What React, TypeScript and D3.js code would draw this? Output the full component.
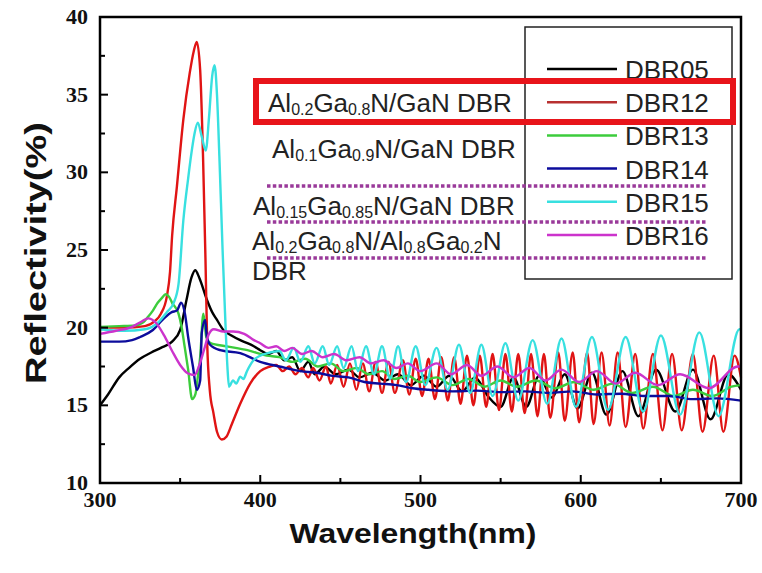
import React from "react";
import * as d3 from "d3";

// reflectivity spectra, [wavelength nm, reflectivity %]
const dbr05: [number, number][] = [
  [300, 15.0], [305, 15.7], [312, 16.8], [318, 17.4], [325, 18.0], [332, 18.4], [338, 18.7], [345, 19.1],
  [350, 19.85], [354, 21.8], [357, 23.2], [359.4, 23.7], [362, 23.2], [366.7, 21.8], [370, 21.0], [373, 20.5],
  [377, 19.85], [382, 19.5], [387.5, 19.2], [392, 19.0], [396, 18.8], [400, 18.55], [405, 18.3], [410, 18.5],
  [415, 17.9], [420, 18.1], [425, 17.2], [430, 17.8], [434, 17.0], [440, 17.5], [447, 17.0], [455, 17.3],
  [462, 16.8], [470, 17.1], [478, 16.6], [486, 17.0], [494, 16.3], [502, 16.9], [510, 16.2], [518, 16.9],
  [526, 15.9], [534, 16.8], [542, 15.6], [550, 14.9], [558, 16.8], [566, 14.9], [574, 16.9], [582, 15.5],
  [590, 17.0], [598, 14.8], [607, 17.1], [616, 14.4], [626, 17.2], [636, 14.3], [647, 17.3], [659, 14.6],
  [670, 17.3], [681, 14.1], [692, 17.0], [700, 16.0],
];

const dbr12: [number, number][] = [
  [300, 20.0], [315, 20.0], [328, 20.1], [334, 20.4], [338, 20.9], [341.7, 22.0], [343.7, 23.6], [345, 25.9],
  [348, 29.1], [352, 33.4], [356, 36.4], [358.5, 37.8], [360.4, 38.4], [362.5, 36.6], [364.3, 31.0], [365.8, 24.5],
  [366.9, 19.0], [368.5, 16.0], [370.8, 14.5], [373, 13.3], [376, 12.8], [379, 13.0], [382.3, 13.8], [387.5, 15.1],
  [393.7, 16.4], [400, 17.2], [406, 17.5],
  [410, 17.6], [414, 17.2], [418, 17.5], [422, 17.0], [426, 17.4], [430, 16.8], [433, 17.4], [437, 16.6],
  [441, 17.5], [444, 16.4], [448, 17.6], [452, 16.2], [456, 17.7], [460, 16.0], [464, 17.7], [468, 15.9],
  [472, 17.8], [476, 15.8], [480, 17.8], [484, 15.8], [489, 17.9], [493, 15.7], [497, 18.0], [501, 15.6],
  [505, 18.0], [509, 15.4], [513, 18.1], [517, 15.3], [521, 18.1], [525, 15.1], [529, 18.2], [533, 15.0],
  [537, 18.2], [541, 14.9], [545, 18.3], [549, 14.7], [553, 18.3], [557, 14.6], [561, 18.3], [565, 14.5],
  [569, 18.3], [573, 14.3], [577, 18.3], [581, 14.2], [586, 18.4], [590, 14.0], [595, 18.4], [599, 13.9],
  [604, 18.4], [608, 13.8], [613, 18.4], [618, 13.7], [623, 18.4], [628, 13.6], [634, 18.3], [639, 13.5],
  [645, 18.3], [651, 13.4], [657, 18.3], [663, 13.4], [670, 18.3], [676, 13.3], [683, 18.2], [689, 13.3],
  [696, 18.2], [700, 16.8],
];

const dbr13: [number, number][] = [
  [300, 20.05], [312, 20.1], [322, 20.15], [327, 20.35], [330, 20.7], [333, 21.1], [336, 21.6], [338.5, 21.9],
  [341, 22.15], [343, 22.0], [345, 21.6], [349, 20.9], [351, 20.0], [352.5, 19.0], [355, 17.3], [357.5, 15.4],
  [359.5, 15.7], [361, 16.8], [362.5, 18.1], [364.5, 20.9], [366.3, 19.4], [369, 19.0], [379, 18.8], [392, 18.55],
  [404, 18.2], [412, 18.1], [420, 17.8], [428, 18.0], [436, 17.5], [444, 17.7], [452, 17.2], [460, 17.4],
  [468, 17.0], [476, 17.2], [484, 16.7], [492, 16.9], [500, 16.5], [510, 16.8], [520, 16.3], [530, 16.7],
  [540, 16.2], [550, 16.6], [560, 16.2], [572, 16.6], [584, 16.1], [596, 16.5], [608, 16.0], [620, 16.4],
  [632, 15.8], [645, 16.2], [658, 15.6], [670, 16.0], [682, 15.6], [694, 16.2], [700, 16.3],
];

const dbr14: [number, number][] = [
  [300, 19.1], [312, 19.1], [320, 19.2], [325, 19.4], [333, 19.85], [339, 20.5], [344.8, 21.0], [348, 21.1],
  [350.6, 21.6], [353, 20.9], [355, 19.4], [358, 17.5], [360.4, 16.0], [362.5, 16.6], [363.5, 19.65], [365.6, 20.5],
  [366.7, 19.4], [368.7, 18.9], [375, 18.55], [387.5, 18.36], [400, 17.8], [412, 17.5], [425, 17.2], [435, 17.1],
  [445, 16.9], [455, 16.8], [465, 16.5], [475, 16.4], [485, 16.3], [495, 16.1], [505, 16.0], [520, 15.9],
  [535, 15.95], [550, 15.85], [565, 15.9], [580, 15.8], [595, 15.9], [610, 15.7], [625, 15.75], [640, 15.6],
  [655, 15.6], [670, 15.4], [685, 15.45], [700, 15.3],
];

const dbr15: [number, number][] = [
  [300, 19.9], [315, 19.8], [328, 19.9], [336, 20.3], [341.7, 21.0], [346, 21.6], [349, 22.8], [352, 26.9],
  [355, 29.6], [357, 31.2], [359, 32.5], [361, 33.2], [363.5, 32.3], [366, 31.4], [368, 33.5], [370, 36.2],
  [371.5, 36.9], [373, 35.0], [374.5, 31.0], [376.5, 25.0], [378, 21.0], [379.5, 17.5], [380.5, 16.2], [383, 16.6],
  [385, 16.4], [387.5, 16.85], [389.5, 16.7], [391.7, 17.2], [395.8, 17.9], [400, 18.2], [406, 18.4],
  [412, 18.5], [416, 17.9], [421, 18.7], [425, 17.8], [430, 18.8], [434, 17.7], [439, 18.8], [443, 17.6],
  [448, 18.8], [452, 17.4], [457, 18.8], [461, 17.2], [466, 18.8], [471, 17.0], [476, 18.8], [481, 16.7],
  [486, 18.8], [491, 16.5], [497, 18.8], [503, 16.3], [510, 18.7], [517, 16.0], [524, 18.9], [531, 15.8],
  [538, 18.9], [545, 15.6], [553, 19.0], [561, 15.3], [570, 19.2], [579, 15.1], [588, 19.3], [597, 14.9],
  [607, 19.4], [617, 14.7], [628, 19.4], [639, 14.6], [650, 19.5], [662, 14.4], [674, 19.7], [686, 14.3],
  [699, 19.9], [700, 19.9],
];

const dbr16: [number, number][] = [
  [300, 19.6], [310, 19.8], [320, 20.05], [326, 20.4], [330, 20.6], [335, 20.3], [340, 19.5], [345, 18.5],
  [350, 17.6], [355, 17.05], [359, 16.95], [362, 17.6], [365, 18.6], [368, 19.6], [371, 19.9], [377, 19.75],
  [383, 19.75], [390, 19.6], [396, 19.2], [400, 19.0], [405, 18.7], [410, 18.8], [415, 18.5], [420, 18.7],
  [426, 18.3], [432, 18.5], [439, 18.1], [446, 18.3], [454, 17.9], [462, 18.1], [469, 17.7], [477, 17.9],
  [485, 17.4], [492, 17.7], [500, 17.2], [510, 17.7], [519, 17.0], [529, 17.6], [538, 16.9], [548, 17.5],
  [558, 16.8], [568, 17.4], [578, 16.6], [588, 17.3], [599, 16.5], [610, 17.2], [622, 16.4], [634, 17.1],
  [648, 16.3], [662, 17.0], [680, 16.1], [698, 17.5], [700, 17.5],
];

const seriesNames = ["DBR05", "DBR12", "DBR13", "DBR14", "DBR15", "DBR16"];
const seriesData = [dbr05, dbr12, dbr13, dbr14, dbr15, dbr16];
const seriesColors = ["#000000", "#e01414", "#3ccc3c", "#0c0c9c", "#38e0e0", "#cc33cc"];
const legendColors = ["#000000", "#b83030", "#3ccc3c", "#0c0c9c", "#38e0e0", "#cc33cc"];

const xTicks = [300, 400, 500, 600, 700];
const yTicks = [10, 15, 20, 25, 30, 35, 40];

// annotation lines: [base, subscript, base, subscript, ...]
const notes: { parts: string[]; x: number; y: number }[] = [
  { parts: ["Al", "0.2", "Ga", "0.8", "N/GaN DBR"], x: 268, y: 112 },
  { parts: ["Al", "0.1", "Ga", "0.9", "N/GaN DBR"], x: 272, y: 158 },
  { parts: ["Al", "0.15", "Ga", "0.85", "N/GaN DBR"], x: 253, y: 215 },
  { parts: ["Al", "0.2", "Ga", "0.8", "N/Al", "0.8", "Ga", "0.2", "N"], x: 252, y: 250 },
  { parts: ["DBR"], x: 252, y: 280 },
];
const dottedY = [186, 222, 258];

export default function App() {
  const W = 762, H = 573;
  const x = d3.scaleLinear().domain([300, 700]).range([100, 741]);
  const y = d3.scaleLinear().domain([10, 40]).range([483, 17]);

  const line = d3.line<[number, number]>()
    .x(d => x(d[0]))
    .y(d => y(d[1]))
    .curve(d3.curveMonotoneX);

  const xMinor = d3.range(350, 700, 100);
  const yMinor = d3.range(12.5, 40, 5);
  const tickFont = "'Liberation Serif', 'Times New Roman', serif";
  const sans = "'Liberation Sans', Arial, sans-serif";

  return (
    <svg width={W} height={H} style={{ position: "absolute", left: 0, top: 0, background: "#fff" }}>
      {/* curves */}
      <g fill="none" strokeWidth={2.4} strokeLinejoin="round">
        {seriesData.map((d, i) => (
          <path key={seriesNames[i]} d={line(d) || ""} stroke={seriesColors[i]} />
        ))}
      </g>

      {/* frame */}
      <rect x={100} y={17} width={641} height={466} fill="none" stroke="#000" strokeWidth={2.5} />

      {/* ticks */}
      <g stroke="#000" strokeWidth={2}>
        {xTicks.map(t => <line key={"xt" + t} x1={x(t)} x2={x(t)} y1={483} y2={475} />)}
        {xMinor.map(t => <line key={"xm" + t} x1={x(t)} x2={x(t)} y1={483} y2={478} />)}
        {yTicks.map(t => <line key={"yt" + t} x1={100} x2={108} y1={y(t)} y2={y(t)} />)}
        {yMinor.map(t => <line key={"ym" + t} x1={100} x2={105} y1={y(t)} y2={y(t)} />)}
      </g>
      <g fontFamily={tickFont} fontWeight="bold" fontSize={22} fill="#111">
        {xTicks.map(t => (
          <text key={"xl" + t} x={x(t)} y={507} textAnchor="middle">{t}</text>
        ))}
        {yTicks.map(t => (
          <text key={"yl" + t} x={88} y={y(t) + 7} textAnchor="end">{t}</text>
        ))}
      </g>

      {/* axis titles */}
      <text x={413} y={543} textAnchor="middle" fontFamily={sans} fontWeight="bold" fontSize={28}
        textLength={247} lengthAdjust="spacingAndGlyphs" fill="#111">Wavelength(nm)</text>
      <text transform="translate(46,253) rotate(-90)" textAnchor="middle" fontFamily={sans} fontWeight="bold"
        fontSize={30} textLength={262} lengthAdjust="spacingAndGlyphs" fill="#111">Reflectivity(%)</text>

      {/* legend */}
      <rect x={525} y={27} width={207} height={252} fill="none" stroke="#222" strokeWidth={1.5} />
      {seriesNames.map((n, i) => {
        const ly = 69 + i * 33.2;
        return (
          <g key={"lg" + n}>
            <line x1={547} x2={617} y1={ly} y2={ly} stroke={legendColors[i]} strokeWidth={2.5} />
            <text x={625} y={ly + 10} fontFamily={sans} fontSize={26} fill="#222">{n}</text>
          </g>
        );
      })}

      {/* dotted separators */}
      {dottedY.map(dy => (
        <line key={"dl" + dy} x1={267} x2={707} y1={dy} y2={dy} stroke="#9a3a9a" strokeWidth={3.5}
          strokeDasharray="3.5,2.3" />
      ))}

      {/* annotations */}
      <g fontFamily={sans} fontSize={26} fill="#222">
        {notes.map((nt, k) => (
          <text key={"nt" + k} x={nt.x} y={nt.y}>
            {nt.parts.map((p, j) => j % 2 === 1
              ? <tspan key={j} fontSize={16} dy={3}>{p}</tspan>
              : <tspan key={j} dy={j === 0 ? 0 : -3}>{p}</tspan>)}
          </text>
        ))}
      </g>

      {/* highlight box */}
      <rect x={256} y={81} width={477} height={41} fill="none" stroke="#e8141a" strokeWidth={6} />
    </svg>
  );
}
